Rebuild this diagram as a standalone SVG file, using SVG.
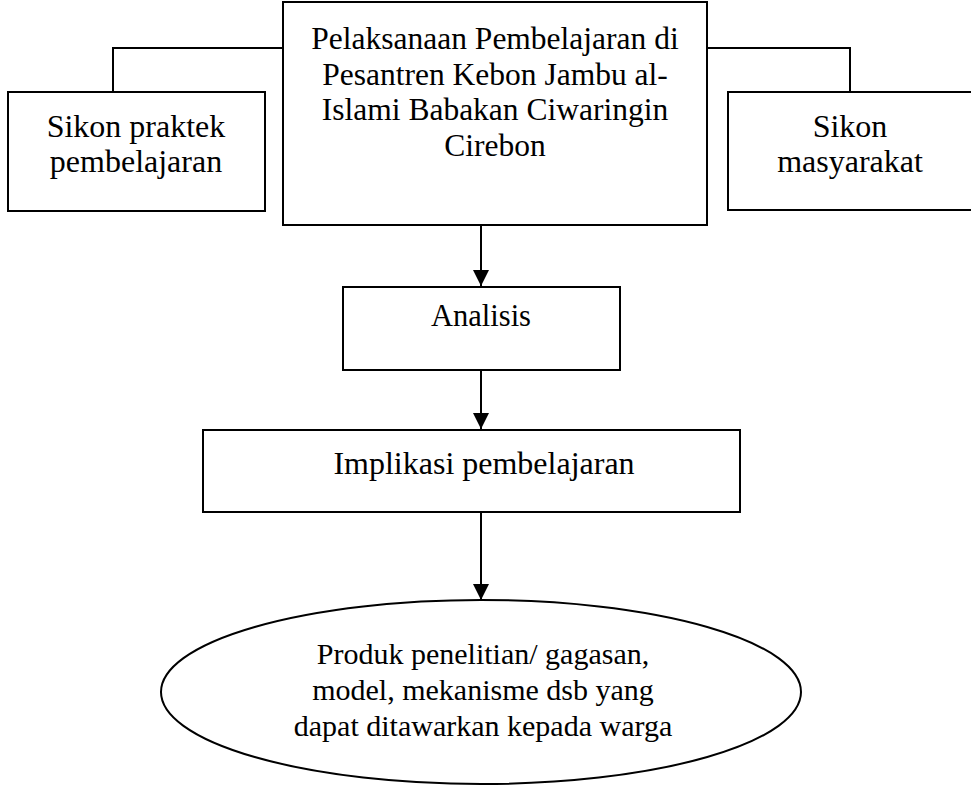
<svg xmlns="http://www.w3.org/2000/svg" width="971" height="790" viewBox="0 0 971 790">
<style>
.box{fill:#fff;stroke:#000;stroke-width:2}
.ln{fill:none;stroke:#000;stroke-width:2}
.t{font-family:"Liberation Serif","Times New Roman",serif;font-size:31px;fill:#000;text-anchor:middle}
</style>
<defs>
<marker id="ah" viewBox="0 0 10 10" refX="10" refY="5" markerWidth="8" markerHeight="8" markerUnits="strokeWidth" orient="auto">
<path d="M0,0 L10,5 L0,10 Z" fill="#000"/>
</marker>
</defs>
<rect width="971" height="790" fill="#fff"/>
<g id="connectors">
<polyline class="ln" points="113,92 113,48 283,48"/>
<polyline class="ln" points="707,48 850,48 850,92"/>
<line class="ln" x1="481" y1="225" x2="481" y2="286" marker-end="url(#ah)"/>
<line class="ln" x1="481" y1="370" x2="481" y2="429" marker-end="url(#ah)"/>
<line class="ln" x1="481" y1="512" x2="481" y2="600" marker-end="url(#ah)"/>
</g>
<g id="left">
<rect class="box" x="8" y="92" width="257" height="119"/>
<text class="t" x="136" y="137" style="font-size:32px">Sikon praktek</text>
<text class="t" x="136" y="172" style="font-size:32px">pembelajaran</text>
</g>
<g id="right">
<rect class="box" x="728" y="92" width="250" height="118"/>
<text class="t" x="850" y="137" style="font-size:32px">Sikon</text>
<text class="t" x="850" y="172" style="font-size:32px">masyarakat</text>
</g>
<g id="top">
<rect class="box" x="283" y="2" width="424" height="223"/>
<text class="t" x="495" y="49" style="font-size:31.5px">Pelaksanaan Pembelajaran di</text>
<text class="t" x="495" y="85" style="font-size:31.5px">Pesantren Kebon Jambu al-</text>
<text class="t" x="495" y="120" style="font-size:31.5px">Islami Babakan Ciwaringin</text>
<text class="t" x="495" y="156" style="font-size:31.5px">Cirebon</text>
</g>
<g id="analisis">
<rect class="box" x="343" y="287" width="277" height="83"/>
<text class="t" x="481" y="326" style="font-size:30.5px">Analisis</text>
</g>
<g id="implikasi">
<rect class="box" x="203" y="430" width="537" height="82"/>
<text class="t" x="484" y="474" style="font-size:32px">Implikasi pembelajaran</text>
</g>
<g id="produk">
<ellipse class="box" cx="481" cy="692" rx="320" ry="92"/>
<text class="t" x="483" y="664" style="font-size:30px">Produk penelitian/ gagasan,</text>
<text class="t" x="483" y="700" style="font-size:30px">model, mekanisme dsb yang</text>
<text class="t" x="483" y="736" style="font-size:30px">dapat ditawarkan kepada warga</text>
</g>
</svg>
